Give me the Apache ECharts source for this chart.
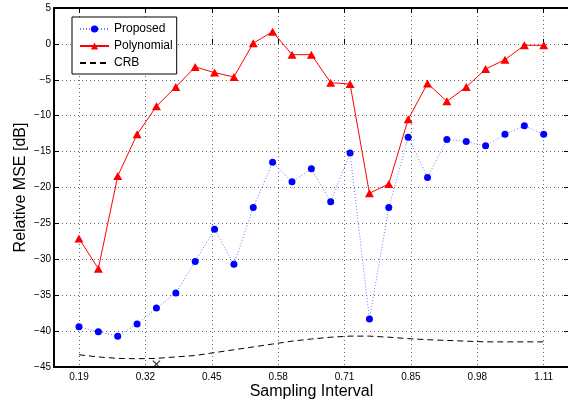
<!DOCTYPE html>
<html>
<head>
<meta charset="utf-8">
<script src="https://cdn.jsdelivr.net/npm/echarts@6/dist/echarts.min.js"></script>
<style>html,body{margin:0;padding:0;background:#fff;}#c{width:568px;height:400px;}</style>
</head>
<body>
<div id="c"></div>
<script>
// ---- data ----
const samplingInterval = [0.1900,0.2283,0.2667,0.3050,0.3433,0.3817,0.4200,0.4583,0.4967,0.5350,0.5733,0.6117,0.6500,0.6883,0.7267,0.7650,0.8033,0.8417,0.8800,0.9183,0.9567,0.9950,1.0333,1.0717,1.1100];
const proposed = [-39.4,-40.1,-40.7,-39.0,-36.8,-34.7,-30.3,-25.8,-30.7,-22.8,-16.5,-19.2,-17.4,-22.0,-15.2,-38.3,-22.8,-13.0,-18.6,-13.3,-13.6,-14.2,-12.6,-11.4,-12.6];
const polynomial = [-27.1,-31.3,-18.4,-12.6,-8.7,-6.0,-3.2,-4.0,-4.6,0.1,1.7,-1.5,-1.5,-5.4,-5.6,-20.8,-19.5,-10.5,-5.5,-8.0,-6.0,-3.5,-2.2,-0.2,-0.2];
const crb = [-43.3,-43.6,-43.8,-43.85,-43.8,-43.6,-43.4,-43.0,-42.6,-42.2,-41.8,-41.4,-41.1,-40.85,-40.7,-40.7,-40.85,-41.05,-41.2,-41.3,-41.4,-41.5,-41.5,-41.5,-41.5];
const markX = [0.3433];
const markY = [-44.6];
const xTickLabels = ['0.19','0.32','0.45','0.58','0.71','0.85','0.98','1.11'];
const yTicks = [-45,-40,-35,-30,-25,-20,-15,-10,-5,0,5];

// map sampling interval to tick units (ticks equally spaced 0.19..1.11)
const x0 = 0.19, tickStep = (1.11 - 0.19) / 7;
const tu = s => (s - x0) / tickStep;
const pairs = ys => samplingInterval.map((s, i) => [tu(s), ys[i]]);

const font = '"Liberation Sans", Arial, Helvetica, sans-serif';
const gridLine = { show: true, lineStyle: { color: '#666', width: 1, type: [1, 3] } };
const xLabelFmt = v => {
  const r = Math.round(v);
  return (r >= 0 && r < xTickLabels.length) ? xTickLabels[r] : '';
};
const yLabelFmt = v => v < 0 ? '\u2212' + Math.abs(v) : String(v);
const frameLine = { show: true, onZero: false, lineStyle: { color: '#000', width: 2 } };
const inTick = { show: true, inside: true, length: 5, lineStyle: { color: '#000', width: 1 } };

const chart = echarts.init(document.getElementById('c'), null, { renderer: 'canvas' });
chart.setOption({
  animation: false,
  backgroundColor: '#fff',
  textStyle: { fontFamily: font },
  grid: [
    { left: 54, top: 8, width: 515, height: 359, containLabel: false, outerBoundsMode: 'none' },
    { left: 79, top: 8, width: 464.7, height: 359, containLabel: false, outerBoundsMode: 'none' }
  ],
  legend: {
    left: 72, top: 17, orient: 'vertical',
    backgroundColor: '#fff', borderColor: '#000', borderWidth: 1, borderRadius: 0,
    padding: [6, 4, 5, 7], itemGap: 5, itemWidth: 29, itemHeight: 9,
    textStyle: { fontFamily: font, fontSize: 12, color: '#000', padding: [1, 0, 0, 0] },
    data: ['Proposed', 'Polynomial', { name: 'CRB', itemStyle: { opacity: 0 } }]
  },
  xAxis: [{
    gridIndex: 0, type: 'value', min: -0.3765, max: 7.381,
    name: 'Sampling Interval', nameLocation: 'middle', nameGap: 17, nameMoveOverlap: false,
    nameTextStyle: { fontSize: 16, color: '#000', fontFamily: font },
    axisLine: frameLine, axisTick: { show: false }, axisLabel: { show: false }, splitLine: { show: false }
  }, {
    gridIndex: 0, type: 'value', position: 'top', min: -0.3765, max: 7.381,
    axisLine: frameLine, axisTick: { show: false }, axisLabel: { show: false }, splitLine: { show: false }
  }, {
    gridIndex: 1, type: 'value', min: 0, max: xTickLabels.length - 1, interval: 1,
    axisLine: { show: false }, axisTick: inTick,
    axisLabel: { show: true, fontSize: 10, color: '#000', margin: 5, formatter: xLabelFmt },
    splitLine: gridLine
  }, {
    gridIndex: 1, type: 'value', position: 'top', min: 0, max: xTickLabels.length - 1, interval: 1,
    axisLine: { show: false }, axisTick: inTick, axisLabel: { show: false }, splitLine: { show: false }
  }],
  yAxis: [{
    gridIndex: 0, type: 'value', min: yTicks[0], max: yTicks[yTicks.length - 1], interval: 5,
    name: 'Relative MSE [dB]', nameLocation: 'middle', nameGap: 25, nameMoveOverlap: false,
    nameTextStyle: { fontSize: 16, color: '#000', fontFamily: font },
    axisLine: frameLine, axisTick: inTick,
    axisLabel: { show: true, fontSize: 10, color: '#000', margin: 3, formatter: yLabelFmt },
    splitLine: gridLine
  }, {
    gridIndex: 0, type: 'value', position: 'right', min: yTicks[0], max: yTicks[yTicks.length - 1], interval: 5,
    axisLine: frameLine, axisTick: inTick, axisLabel: { show: false }, splitLine: { show: false }
  }, {
    gridIndex: 1, type: 'value', min: yTicks[0], max: yTicks[yTicks.length - 1], interval: 5, show: false
  }],
  series: [{
    name: 'Proposed', type: 'line', xAxisIndex: 0, yAxisIndex: 0, data: pairs(proposed),
    symbol: 'circle', symbolSize: 7, showAllSymbol: true,
    itemStyle: { color: '#0000ff' },
    lineStyle: { color: '#7777ff', width: 1, type: [1, 2] }
  }, {
    name: 'Polynomial', type: 'line', xAxisIndex: 0, yAxisIndex: 0, data: pairs(polynomial),
    symbol: 'triangle', symbolSize: [9, 8], showAllSymbol: true,
    itemStyle: { color: '#ff0000' },
    lineStyle: { color: '#ff0000', width: 1 }
  }, {
    name: 'CRB', type: 'line', xAxisIndex: 0, yAxisIndex: 0, data: pairs(crb),
    symbol: 'none',
    itemStyle: { color: '#000' },
    lineStyle: { color: '#000', width: 1, type: [6, 4] }
  }, {
    name: 'mark', type: 'scatter', xAxisIndex: 0, yAxisIndex: 0, data: markX.map((s, i) => [tu(s), markY[i]]),
    symbol: 'path://M0,1L1,0L5,4L9,0L10,1L6,5L10,9L9,10L5,6L1,10L0,9L4,5Z', symbolSize: 8,
    itemStyle: { color: '#000' }, clip: false
  }]
});
</script>
</body>
</html>
